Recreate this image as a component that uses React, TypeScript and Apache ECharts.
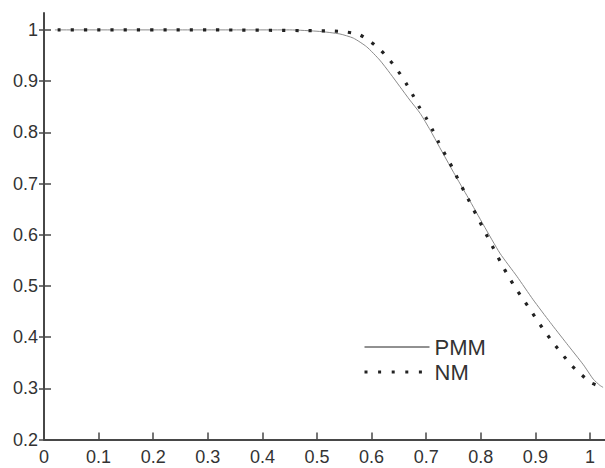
import React, { useEffect, useRef } from "react";
import * as echarts from "echarts";

const xTicks = [0, 0.1, 0.2, 0.3, 0.4, 0.5, 0.6, 0.7, 0.8, 0.9, 1];
const yTicks = [0.2, 0.3, 0.4, 0.5, 0.6, 0.7, 0.8, 0.9, 1];

const pmmX = [0.02, 0.3, 0.45, 0.505, 0.542, 0.5665, 0.591, 0.615, 0.634, 0.652, 0.67, 0.689, 0.707, 0.725, 0.75, 0.777, 0.805, 0.835, 0.866, 0.896, 0.927, 0.957, 0.988, 1.006, 1.018, 1.024];
const pmmY = [1.0, 1.0, 1.0, 0.997, 0.992, 0.984, 0.967, 0.941, 0.915, 0.889, 0.863, 0.837, 0.805, 0.77, 0.722, 0.672, 0.619, 0.564, 0.519, 0.473, 0.429, 0.388, 0.346, 0.318, 0.306, 0.302];

const nmX = [0.025, 0.3, 0.527, 0.553, 0.577, 0.598, 0.617, 0.634, 0.649, 0.663, 0.675, 0.687, 0.7, 0.712, 0.723, 0.735, 0.747, 0.758, 0.769, 0.838, 0.85, 0.863, 0.877, 0.891, 0.905, 0.919, 0.934, 0.949, 0.965, 0.983, 1.002, 1.024];
const nmY = [1.0, 1.0, 0.998, 0.996, 0.991, 0.977, 0.96, 0.94, 0.919, 0.896, 0.874, 0.85, 0.828, 0.804, 0.78, 0.756, 0.733, 0.709, 0.686, 0.543, 0.52, 0.497, 0.475, 0.453, 0.43, 0.409, 0.387, 0.367, 0.346, 0.328, 0.311, 0.302];

const seriesNames = ["PMM", "NM"];

export default function App() {
  const ref = useRef<HTMLDivElement>(null);
  useEffect(() => {
    if (!ref.current) return;
    const chart = echarts.init(ref.current, undefined, { renderer: "svg" });
    const font = "'Liberation Sans', Arial, sans-serif";
    const axisColor = "#474747";
    const labelColor = "#333";
    const xMin = 0, xMax = 1.0275, yMin = 0.2, yMax = 1.033;
    chart.setOption({
      animation: false,
      backgroundColor: "#fff",
      grid: { left: 44, right: 0, top: 13, bottom: 28.4, containLabel: false },
      legend: {
        orient: "vertical",
        left: 363,
        top: 336,
        padding: 0,
        itemWidth: 65,
        itemHeight: 4,
        itemGap: 3,
        itemStyle: { opacity: 0, borderWidth: 0 },
        textStyle: { fontFamily: font, fontSize: 22, color: labelColor, lineHeight: 22 },
        data: [
          { name: seriesNames[0], lineStyle: { color: "#222", width: 1, type: "solid", opacity: 1 } },
          { name: seriesNames[1], lineStyle: { color: "#222", width: 3, type: [3, 10.6], cap: "butt", opacity: 1 } },
        ],
      },
      xAxis: [
        {
          type: "value",
          min: xMin,
          max: xMax,
          splitLine: { show: false },
          axisLine: { show: true, onZero: false, lineStyle: { color: axisColor, width: 2 } },
          axisTick: { show: true, inside: true, length: 7, customValues: xTicks, lineStyle: { color: axisColor, width: 1.5 } },
          axisLabel: { customValues: xTicks, margin: 8, fontFamily: font, fontSize: 18, color: labelColor },
        },
      ],
      yAxis: [
        {
          type: "value",
          min: yMin,
          max: yMax,
          splitLine: { show: false },
          axisLine: { show: true, onZero: false, lineStyle: { color: axisColor, width: 2 } },
          axisTick: { show: true, inside: false, length: 5, customValues: yTicks, lineStyle: { color: axisColor, width: 1.5 } },
          axisLabel: { customValues: yTicks, margin: 6, fontFamily: font, fontSize: 18, color: labelColor },
        },
        {
          type: "value",
          position: "left",
          min: yMin,
          max: yMax,
          splitLine: { show: false },
          axisLine: { show: false },
          axisTick: { show: true, inside: true, length: 7, customValues: yTicks, lineStyle: { color: axisColor, width: 1.5 } },
          axisLabel: { show: false },
        },
      ],
      series: [
        {
          name: seriesNames[0],
          type: "line",
          data: pmmX.map((x, i) => [x, pmmY[i]]),
          showSymbol: false,
          symbol: "none",
          smooth: 0.2,
          lineStyle: { color: "#8a8a8a", width: 1 },
          itemStyle: { color: "#222" },
          z: 2,
        },
        {
          name: seriesNames[1],
          type: "line",
          data: nmX.map((x, i) => [x, nmY[i]]),
          showSymbol: false,
          symbol: "none",
          smooth: 0.2,
          lineStyle: { color: "#222", width: 3.2, type: [3.2, 10], cap: "butt" },
          itemStyle: { color: "#222" },
          z: 3,
        },
      ],
    });
    return () => chart.dispose();
  }, []);
  return <div ref={ref} style={{ width: 605, height: 468, position: "absolute", left: 0, top: 0 }} />;
}
